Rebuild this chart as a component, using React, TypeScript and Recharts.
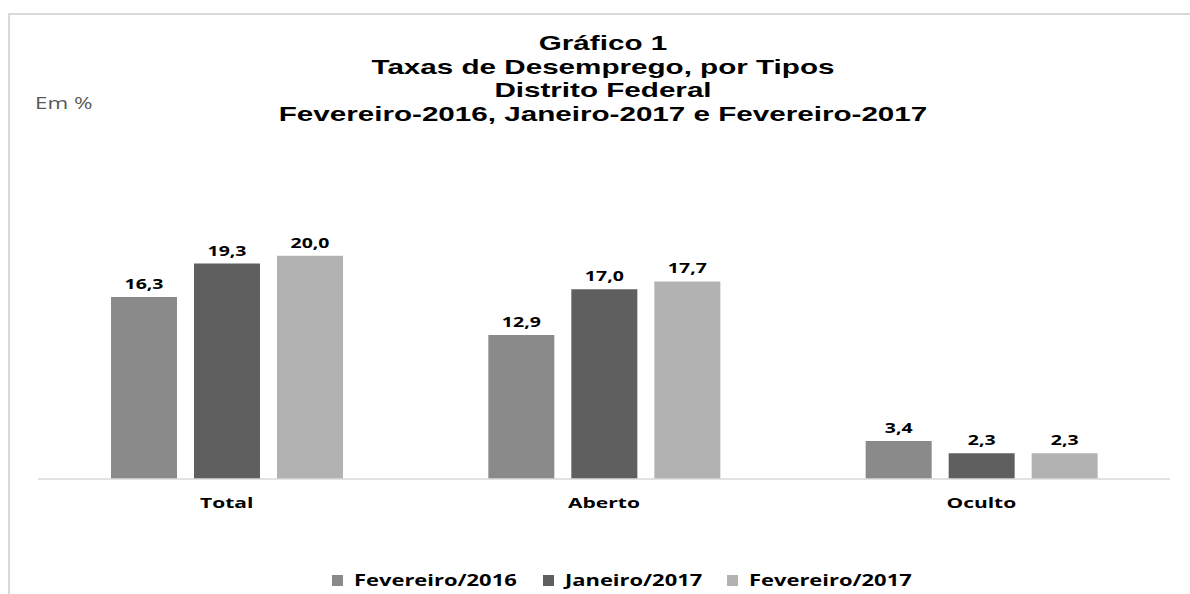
import React from 'react';
import { BarChart, Bar, XAxis, YAxis, LabelList } from 'recharts';

const categories = ['Total', 'Aberto', 'Oculto'];
const fev2016 = [16.3, 12.9, 3.4];
const jan2017 = [19.3, 17.0, 2.3];
const fev2017 = [20.0, 17.7, 2.3];
const seriesNames = ['Fevereiro/2016', 'Janeiro/2017', 'Fevereiro/2017'];
const seriesKeys = ['fev2016', 'jan2017', 'fev2017'];
const seriesColors = ['#8a8a8a', '#5f5f5f', '#b2b2b2'];
const titleLines = [
  'Gráfico 1',
  'Taxas de Desemprego, por Tipos',
  'Distrito Federal',
  'Fevereiro-2016, Janeiro-2017 e Fevereiro-2017',
];
const unitLabel = 'Em %';

const data = categories.map((name, i) => ({
  name,
  fev2016: fev2016[i],
  jan2017: jan2017[i],
  fev2017: fev2017[i],
}));

const LABEL_FONT = "'Open Sans', sans-serif";

const fmt = (v: number) => v.toFixed(1).replace('.', ',');

const ValueLabel = (props: any) => {
  const { x, y, width, value } = props;
  const cx = Number(x) + Number(width) / 2;
  return (
    <text
      transform={`translate(${cx},${Number(y) - 8}) scale(1.3,1)`}
      textAnchor="middle"
      fontFamily={LABEL_FONT}
      fontWeight={700}
      fontSize={15}
      fill="#000"
    >
      {fmt(Number(value))}
    </text>
  );
};

const CatTick = (props: any) => {
  const { x, y, payload } = props;
  return (
    <text
      transform={`translate(${x},${Number(y) + 21}) scale(1.4,1)`}
      textAnchor="middle"
      fontFamily={LABEL_FONT}
      fontWeight={700}
      fontSize={15}
      fill="#000"
    >
      {payload.value}
    </text>
  );
};

const legendLeft = [332, 543, 727];

export default function App() {
  return (
    <div style={{ position: 'absolute', left: 0, top: 0, width: 1190, height: 594, background: '#fff', overflow: 'hidden' }}>
      <div
        style={{
          position: 'absolute',
          left: 8,
          top: 13,
          width: 1300,
          height: 700,
          borderLeft: '2px solid #d9d9d9',
          borderTop: '2px solid #d9d9d9',
          boxSizing: 'border-box',
        }}
      />
      <div style={{ position: 'absolute', left: 0, top: 31, width: 1206, textAlign: 'center' }}>
        {titleLines.map((t, i) => (
          <div
            key={i}
            style={{
              fontFamily: "'Liberation Sans', Arial, sans-serif",
              fontWeight: 700,
              fontSize: 21,
              lineHeight: '23.5px',
              height: 23.5,
              color: '#000',
              transform: 'scaleX(1.41)',
              whiteSpace: 'nowrap',
            }}
          >
            {t}
          </div>
        ))}
      </div>
      <div
        style={{
          position: 'absolute',
          left: 35,
          top: 93,
          fontFamily: LABEL_FONT,
          fontSize: 16,
          lineHeight: '20px',
          color: '#595959',
          transform: 'scaleX(1.4)',
          transformOrigin: 'left center',
          whiteSpace: 'nowrap',
        }}
      >
        {unitLabel}
      </div>
      <div style={{ position: 'absolute', left: 0, top: 0 }}>
        <BarChart
          width={1190}
          height={594}
          data={data}
          margin={{ top: 200, right: 20, left: 38, bottom: 85 }}
          barSize={66}
          barGap={17}
        >
          <XAxis
            dataKey="name"
            height={30}
            axisLine={{ stroke: '#d9d9d9', strokeWidth: 1.5 }}
            tickLine={false}
            tick={<CatTick />}
            interval={0}
          />
          <YAxis hide domain={[0, 25]} />
          {seriesKeys.map((k, i) => (
            <Bar key={k} dataKey={k} name={seriesNames[i]} fill={seriesColors[i]} isAnimationActive={false}>
              <LabelList dataKey={k} content={<ValueLabel />} />
            </Bar>
          ))}
        </BarChart>
      </div>
      {seriesNames.map((n, i) => (
        <div
          key={n}
          style={{ position: 'absolute', left: legendLeft[i], top: 569, height: 22, display: 'flex', alignItems: 'center' }}
        >
          <div style={{ width: 11, height: 11, background: seriesColors[i], marginRight: 11 }} />
          <div
            style={{
              fontFamily: LABEL_FONT,
              fontWeight: 700,
              fontSize: 16,
              lineHeight: '22px',
              color: '#000',
              transform: 'scaleX(1.37)',
              transformOrigin: 'left center',
              whiteSpace: 'nowrap',
            }}
          >
            {n}
          </div>
        </div>
      ))}
    </div>
  );
}
